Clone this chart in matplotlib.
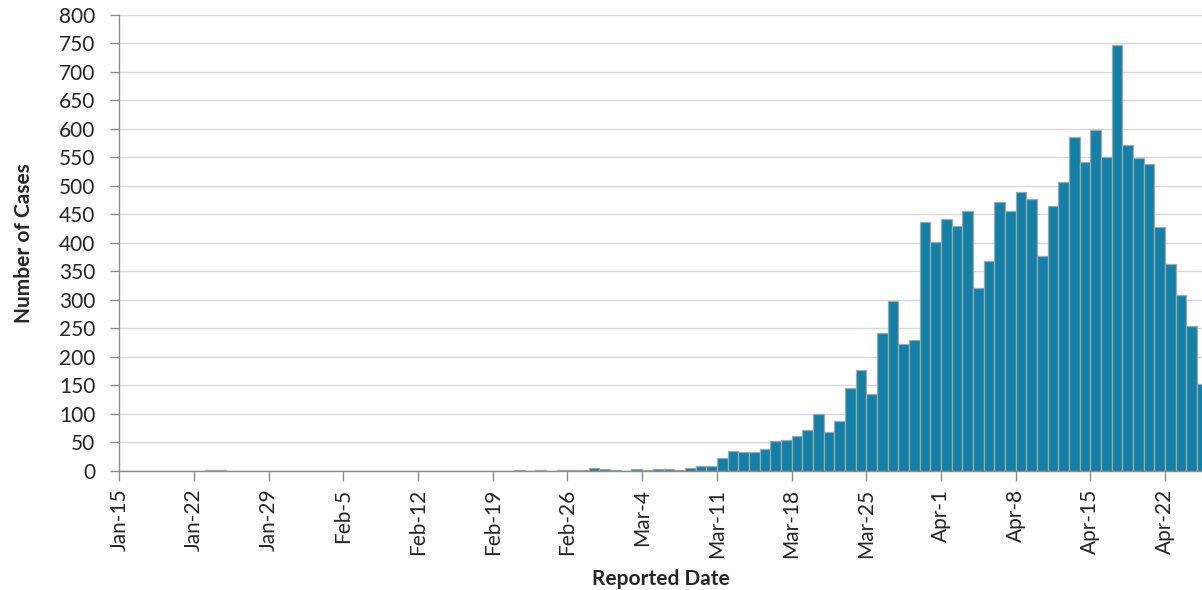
import pandas as pd
import numpy as np
import matplotlib
matplotlib.use("Agg")
import matplotlib.pyplot as plt

plt.rcParams['font.family'] = ['Lato', 'DejaVu Sans']

## daily reported cases, Jan-15 .. Apr-25
start_date = "2020-01-15"
counts = [0, 0, 0, 0, 0, 0, 0, 0, 1, 1,
          0, 0, 0, 0, 0, 0, 0, 0, 0, 0,
          0, 0, 0, 0, 0, 0, 0, 0, 0, 0,
          0, 0, 0, 0, 0, 0, 0, 1, 0, 1,
          0, 1, 1, 1, 5, 3, 1, 0, 3, 1,
          3, 3, 1, 5, 8, 8, 22, 35, 32, 32,
          37, 52, 54, 61, 71, 99, 67, 87, 145, 177,
          134, 242, 297, 222, 230, 437, 401, 441, 429, 455,
          321, 368, 472, 456, 490, 476, 377, 464, 507, 586,
          542, 598, 551, 748, 572, 548, 539, 427, 363, 308,
          253, 152]
dates = pd.date_range(start_date, periods=len(counts), freq="D")
tick_every = 7

x = np.arange(len(counts))

fig = plt.figure(figsize=(12.02, 5.9), dpi=100)
ax = fig.add_axes([0.0993, 0.2025, 0.9007, 0.7721])

ax.bar(x, counts, width=1, align="edge", color="#1380A8",
       edgecolor="#A6A6A6", linewidth=0.9, zorder=3)

ax.set_ylim(0, 800)
ax.set_yticks(np.arange(0, 801, 50))
ax.set_xlim(0, 101.47)
tick_pos = x[::tick_every]
ax.set_xticks(tick_pos)
ax.set_xticklabels([f"{d:%b}-{d.day}" for d in dates[::tick_every]], rotation=90)

ax.grid(axis="y", color="#D9D9D9", linewidth=1, zorder=0)
for s in ["top", "right"]:
    ax.spines[s].set_visible(False)
for s in ["left", "bottom"]:
    ax.spines[s].set_color("#8C8C8C")
    ax.spines[s].set_linewidth(1)
    ax.spines[s].set_zorder(4)

ax.tick_params(axis="x", length=7, width=1, color="#8C8C8C", pad=6,
               labelsize=15, labelcolor="#262626")
ax.tick_params(axis="y", length=6.5, width=1, color="#8C8C8C", pad=10.8,
               labelsize=15, labelcolor="#262626")

ax.set_xlabel("Reported Date", fontsize=15, fontweight="bold", color="#262626", labelpad=8)
ax.set_ylabel("Number of Cases", fontsize=15, fontweight="bold", color="#262626", labelpad=18)

fig.savefig("out.png", dpi=100)
